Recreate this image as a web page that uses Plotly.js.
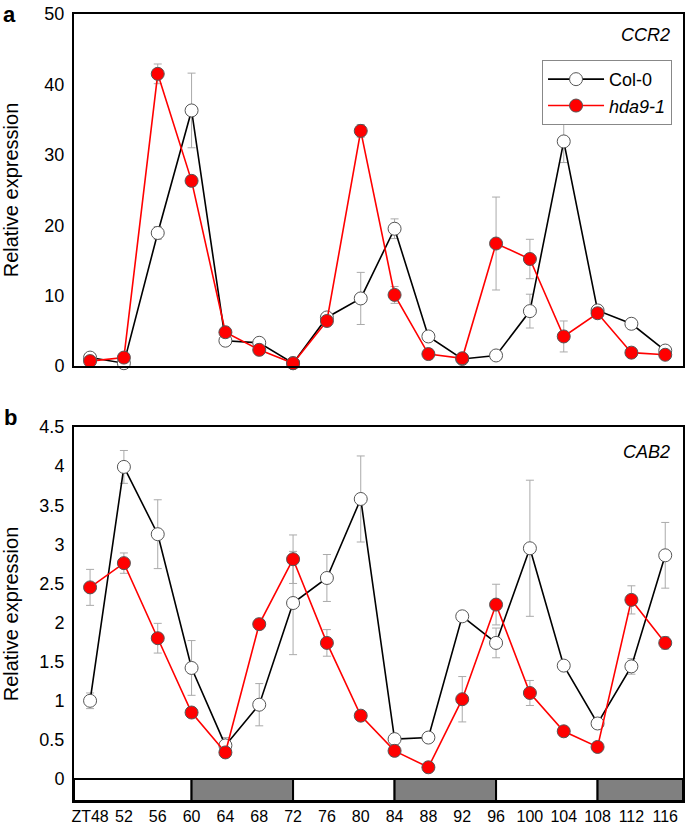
<!DOCTYPE html>
<html>
<head>
<meta charset="utf-8">
<script src="https://cdn.plot.ly/plotly-3.0.1.min.js"></script>
<style>
  html, body { margin: 0; padding: 0; background: #fff; }
  #chart { width: 685px; height: 824px; }
</style>
</head>
<body>
<div id="chart"></div>
<script>
// ---- Data ----
const zt = [48, 52, 56, 60, 64, 68, 72, 76, 80, 84, 88, 92, 96, 100, 104, 108, 112, 116];
const ztLabels = ["ZT48", "52", "56", "60", "64", "68", "72", "76", "80", "84", "88", "92", "96", "100", "104", "108", "112", "116"];

// CCR2 (panel a)
const ccr2Col0 = [1.2, 0.4, 18.9, 36.3, 3.6, 3.3, 0.4, 6.9, 9.6, 19.5, 4.2, 1.0, 1.5, 7.8, 31.9, 7.9, 6.0, 2.2];
const ccr2Col0Err = [0.3, 0.2, 0.9, 5.3, 0.3, 0.3, 0.1, 0.5, 3.7, 1.4, 0.5, 0.2, 0.2, 2.4, 3.0, 0.4, 0.3, 0.3];
const ccr2Hda9 = [0.7, 1.2, 41.5, 26.3, 4.8, 2.3, 0.4, 6.4, 33.4, 10.1, 1.7, 1.1, 17.4, 15.2, 4.2, 7.5, 1.9, 1.6];
const ccr2Hda9Err = [0.2, 0.2, 1.4, 0.7, 0.3, 0.2, 0.1, 0.4, 0.9, 1.2, 0.2, 0.1, 6.6, 2.8, 2.2, 0.4, 0.2, 0.2];

// CAB2 (panel b)
const cab2Col0 = [1.00, 3.99, 3.13, 1.42, 0.43, 0.95, 2.25, 2.57, 3.58, 0.51, 0.53, 2.08, 1.74, 2.95, 1.45, 0.71, 1.44, 2.86];
const cab2Col0Err = [0.10, 0.21, 0.44, 0.35, 0.10, 0.27, 0.66, 0.30, 0.55, 0.03, 0.03, 0.06, 0.19, 0.87, 0.04, 0.04, 0.10, 0.42];
const cab2Hda9 = [2.45, 2.76, 1.80, 0.85, 0.34, 1.98, 2.81, 1.74, 0.81, 0.36, 0.15, 1.02, 2.23, 1.10, 0.61, 0.41, 2.29, 1.74];
const cab2Hda9Err = [0.23, 0.13, 0.19, 0.03, 0.03, 0.07, 0.31, 0.17, 0.03, 0.03, 0.03, 0.29, 0.26, 0.16, 0.03, 0.03, 0.18, 0.08];

// Light / dark periods (ZT)
const periodStart = [46.1, 60, 72, 84, 96, 108];
const periodEnd   = [60, 72, 84, 96, 108, 118.1];
const periodDark  = [false, true, false, true, false, true];

const seriesNames = ["Col-0", "<i>hda9-1</i>"];

// ---- Styles ----
const FONT = "Liberation Sans, Arial, Helvetica, sans-serif";
const xRange = [46.1, 118.1];
const errStyle = {type: "data", visible: true, color: "#aaaaaa", thickness: 1, width: 4};

function trace(y, err, name, isRed, xa, ya, showLegend) {
  return {
    x: zt, y: y, name: name, type: "scatter", mode: "lines+markers",
    xaxis: xa, yaxis: ya, showlegend: showLegend, legendgroup: name,
    line: {color: isRed ? "#ff0000" : "#000000", width: 1.6},
    marker: {size: 13, color: isRed ? "#ff0000" : "#ffffff",
             line: {color: "#555555", width: 1}},
    error_y: Object.assign({array: err}, errStyle),
    cliponaxis: false
  };
}

const data = [
  trace(ccr2Col0, ccr2Col0Err, seriesNames[0], false, "x", "y", true),
  trace(ccr2Hda9, ccr2Hda9Err, seriesNames[1], true, "x", "y", true),
  trace(cab2Col0, cab2Col0Err, seriesNames[0], false, "x2", "y2", false),
  trace(cab2Hda9, cab2Hda9Err, seriesNames[1], true, "x2", "y2", false)
];

const shapes = periodStart.map((s, i) => ({
  type: "rect", xref: "x2", yref: "y2",
  x0: s, x1: periodEnd[i], y0: -0.281, y1: 0,
  fillcolor: periodDark[i] ? "#808080" : "#ffffff",
  line: {color: "#000000", width: 2}, layer: "above"
}));

const axisCommon = {
  showline: true, mirror: true, linecolor: "#000", linewidth: 2,
  showgrid: false, zeroline: false,
  ticks: "outside", ticklen: 4, tickcolor: "rgba(0,0,0,0)",
  tickfont: {family: FONT, size: 18, color: "#000"}
};

const layout = {
  width: 685, height: 824,
  margin: {l: 74, r: 2, t: 14, b: 23},
  paper_bgcolor: "#fff", plot_bgcolor: "#fff",
  font: {family: FONT, color: "#000"},
  showlegend: true,
  legend: {
    x: 0.982, xanchor: "right", y: 0.9416, yanchor: "top",
    bordercolor: "#888", borderwidth: 1, bgcolor: "#fff",
    font: {family: FONT, size: 18, color: "#000"},
    itemwidth: 56, tracegroupgap: 0
  },
  xaxis: Object.assign({}, axisCommon, {
    domain: [0, 1], range: xRange, anchor: "y",
    tickvals: zt, showticklabels: false
  }),
  yaxis: Object.assign({}, axisCommon, {
    domain: [0.5527, 1], range: [0, 50], anchor: "x",
    tickvals: [0, 10, 20, 30, 40, 50],
    title: {text: "Relative expression", font: {family: FONT, size: 20}, standoff: 22}
  }),
  xaxis2: Object.assign({}, axisCommon, {
    domain: [0, 1], range: xRange, anchor: "y2",
    tickvals: zt, ticktext: ztLabels, ticks: "", ticklen: 0,
    tickfont: {family: FONT, size: 16, color: "#000"}
  }),
  yaxis2: Object.assign({}, axisCommon, {
    domain: [0, 0.4752], range: [-0.281, 4.5], anchor: "x2",
    tickvals: [0, 0.5, 1, 1.5, 2, 2.5, 3, 3.5, 4, 4.5],
    ticktext: ["0", "0.5", "1", "1.5", "2", "2.5", "3", "3.5", "4", "4.5"],
    title: {text: "Relative expression", font: {family: FONT, size: 20}, standoff: 18}
  }),
  shapes: shapes,
  annotations: [
    {text: "<i>CCR2</i>", xref: "paper", yref: "paper", x: 0.982, y: 0.9733,
     xanchor: "right", yanchor: "middle", showarrow: false,
     font: {family: FONT, size: 18, color: "#000"}},
    {text: "<i>CAB2</i>", xref: "paper", yref: "paper", x: 0.982, y: 0.4435,
     xanchor: "right", yanchor: "middle", showarrow: false,
     font: {family: FONT, size: 18, color: "#000"}},
    {text: "<b>a</b>", xref: "paper", yref: "paper", x: -0.118, y: 1.0165,
     xanchor: "left", yanchor: "top", showarrow: false, borderpad: 0,
     font: {family: FONT, size: 22, color: "#000"}},
    {text: "<b>b</b>", xref: "paper", yref: "paper", x: -0.118, y: 0.4867,
     xanchor: "left", yanchor: "middle", showarrow: false,
     font: {family: FONT, size: 22, color: "#000"}}
  ]
};

Plotly.newPlot("chart", data, layout, {displayModeBar: false, staticPlot: true});
</script>
</body>
</html>
